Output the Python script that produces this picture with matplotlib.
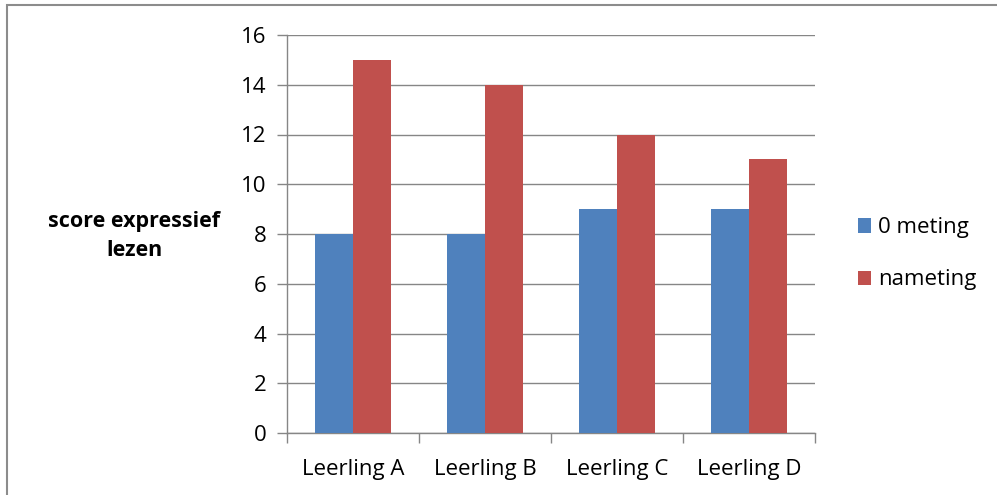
import matplotlib.pyplot as plt
import numpy as np
from matplotlib.patches import Rectangle

plt.rcParams['font.family'] = ['Open Sans', 'DejaVu Sans']

leerlingen = ['Leerling A', 'Leerling B', 'Leerling C', 'Leerling D']
nulmeting = [8, 8, 9, 9]
nameting = [15, 14, 12, 11]
series_labels = ['0 meting', 'nameting']
blue = '#4f81bd'
red = '#c0504d'
grid_grey = '#868686'

W, H = 997, 495
fig = plt.figure(figsize=(W / 100, H / 100), dpi=100)

# outer frame of the chart
fig.patches.append(Rectangle((7 / W, -0.05), 1.2, 1 - 5 / H + 0.05,
                             transform=fig.transFigure, fill=False,
                             edgecolor='#8c8c8c', linewidth=1.5))

ax = fig.add_axes([287 / W, 1 - 433 / H, (815 - 287) / W, (433 - 35) / H])

x = np.arange(len(leerlingen))
w = 0.285
ax.bar(x - w / 2, nulmeting, width=w, color=blue, label=series_labels[0], zorder=3)
ax.bar(x + w / 2, nameting, width=w, color=red, label=series_labels[1], zorder=3)

ax.set_xlim(-0.5, len(leerlingen) - 0.5)
ax.set_ylim(0, 16)
ax.set_yticks(range(0, 17, 2))
ax.yaxis.grid(True, color=grid_grey, linewidth=1, zorder=0)

ax.set_xticks(x)
ax.set_xticklabels(leerlingen, fontsize=16)
ax.tick_params(axis='x', length=0, pad=19)
ax.set_xticks(np.arange(-0.5, len(leerlingen)), minor=True)
ax.tick_params(axis='x', which='minor', length=7, color=grid_grey, width=1)
ax.tick_params(axis='y', labelsize=16, length=7, color=grid_grey, width=1, pad=8)

for side in ['top', 'right']:
    ax.spines[side].set_visible(False)
for side in ['left', 'bottom']:
    ax.spines[side].set_color(grid_grey)
    ax.spines[side].set_linewidth(1)

fig.text(134 / W, 1 - 236 / H, 'score expressief\nlezen', ha='center', va='center',
         fontsize=15.5, fontweight='bold', linespacing=1.55)

ax.legend(loc='center left', bbox_to_anchor=(1.043, 0.45), frameon=False,
          fontsize=16, handlelength=0.6, handleheight=0.6, handletextpad=0.3,
          labelspacing=1.4)

fig.savefig('out.png', dpi=100, facecolor='white')
